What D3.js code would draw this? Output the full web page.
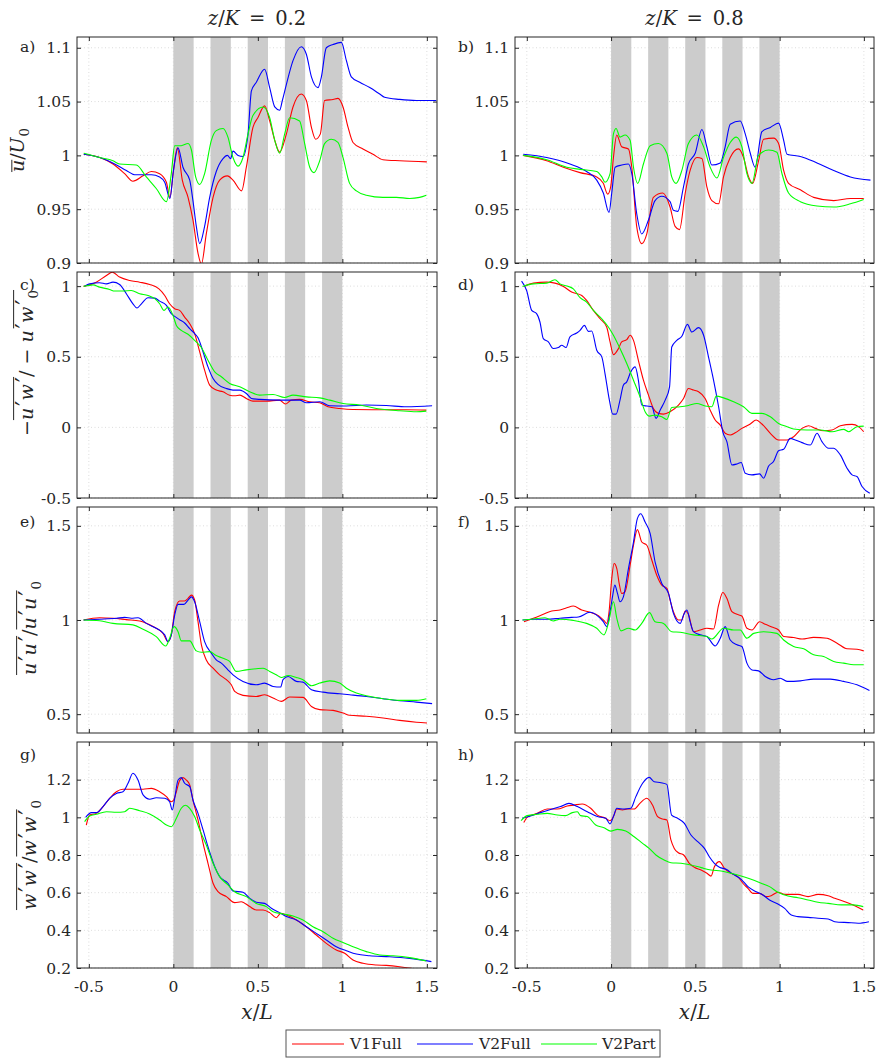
<!DOCTYPE html>
<html><head><meta charset="utf-8">
<script src="https://cdn.jsdelivr.net/npm/d3@7"></script>
<style>
body{margin:0;background:#fff}
svg{display:block}
text{font-family:"DejaVu Serif",serif;fill:#262626}
</style>
</head><body>
<svg id="chart" width="879" height="1058"></svg>
<script>
// ---------- categories / ticks ----------
const seriesNames = ["V1Full", "V2Full", "V2Part"];
const seriesColors = ["#ff0000", "#0000ff", "#00ff00"];
const columnTitles = ["0.2", "0.8"];
const xTicks = [-0.5, 0, 0.5, 1, 1.5];
const xTickLabels = ["-0.5", "0", "0.5", "1", "1.5"];
const rowBands = [[0, 0.12], [0.22, 0.34], [0.44, 0.56], [0.66, 0.78], [0.88, 1.0]];
const yTicksU = [0.9, 0.95, 1, 1.05, 1.1];
const yTickLabelsU = ["0.9", "0.95", "1", "1.05", "1.1"];
const yTicksUW = [-0.5, 0, 0.5, 1];
const yTickLabelsUW = ["-0.5", "0", "0.5", "1"];
const yTicksUU = [0.5, 1, 1.5];
const yTickLabelsUU = ["0.5", "1", "1.5"];
const yTicksWW = [0.2, 0.4, 0.6, 0.8, 1, 1.2];
const yTickLabelsWW = ["0.2", "0.4", "0.6", "0.8", "1", "1.2"];

// ---------- series values [x/L, value] ----------
const a_V1Full = [[-0.53,1.001],[-0.436,0.998],[-0.357,0.992],[-0.288,0.983],[-0.239,0.976],[-0.179,0.981],[-0.13,0.985],[-0.081,0.983],[-0.041,0.975],[-0.02,0.961],[0.0,0.985],[0.024,1.007],[0.053,0.977],[0.087,0.961],[0.116,0.94],[0.146,0.909],[0.166,0.899],[0.195,0.927],[0.235,0.961],[0.274,0.977],[0.32,0.981],[0.353,0.977],[0.404,0.967],[0.432,0.989],[0.471,1.026],[0.5,1.035],[0.54,1.046],[0.57,1.032],[0.6,1.014],[0.629,1.003],[0.669,1.02],[0.708,1.045],[0.757,1.057],[0.787,1.051],[0.817,1.026],[0.842,1.015],[0.87,1.02],[0.895,1.051],[0.945,1.052],[0.974,1.053],[1.004,1.045],[1.034,1.026],[1.063,1.012],[1.122,1.006],[1.181,1.001],[1.24,0.996],[1.34,0.995],[1.5,0.994]];
const a_V2Full = [[-0.53,1.001],[-0.436,0.998],[-0.347,0.992],[-0.278,0.986],[-0.229,0.982],[-0.179,0.982],[-0.13,0.982],[-0.081,0.98],[-0.051,0.975],[-0.02,0.96],[0.0,0.985],[0.028,1.007],[0.057,0.989],[0.097,0.977],[0.116,0.958],[0.136,0.934],[0.156,0.918],[0.185,0.934],[0.215,0.961],[0.254,0.985],[0.294,0.997],[0.32,1.0],[0.339,0.997],[0.353,1.004],[0.383,1.0],[0.412,0.999],[0.442,1.02],[0.462,1.06],[0.491,1.068],[0.54,1.08],[0.57,1.063],[0.6,1.045],[0.629,1.042],[0.645,1.051],[0.669,1.066],[0.708,1.088],[0.757,1.101],[0.787,1.094],[0.817,1.073],[0.856,1.063],[0.876,1.073],[0.905,1.1],[0.945,1.103],[0.994,1.105],[1.024,1.088],[1.053,1.073],[1.103,1.068],[1.162,1.063],[1.221,1.057],[1.25,1.054],[1.339,1.052],[1.438,1.051],[1.556,1.051]];
const a_V2Part = [[-0.53,1.002],[-0.436,0.998],[-0.357,0.995],[-0.318,0.992],[-0.219,0.991],[-0.16,0.98],[-0.1,0.969],[-0.041,0.957],[-0.012,0.983],[0.008,1.009],[0.047,1.009],[0.087,1.011],[0.107,1.005],[0.132,0.98],[0.156,0.973],[0.185,0.983],[0.225,1.014],[0.254,1.023],[0.294,1.025],[0.323,1.017],[0.353,0.998],[0.383,0.99],[0.412,0.998],[0.442,1.02],[0.471,1.037],[0.531,1.045],[0.57,1.035],[0.6,1.014],[0.629,1.002],[0.659,1.02],[0.688,1.035],[0.747,1.032],[0.777,1.011],[0.807,0.989],[0.832,0.984],[0.866,0.995],[0.895,1.011],[0.935,1.015],[0.974,1.012],[1.004,0.998],[1.043,0.974],[1.083,0.967],[1.142,0.963],[1.24,0.961],[1.32,0.961],[1.398,0.96],[1.457,0.961],[1.497,0.963]];

const b_V1Full = [[-0.521,1.0],[-0.382,0.995],[-0.283,0.989],[-0.184,0.984],[-0.085,0.98],[-0.046,0.974],[-0.02,0.964],[-0.002,0.971],[0.014,0.998],[0.034,1.019],[0.063,1.008],[0.103,1.006],[0.123,0.989],[0.152,0.934],[0.182,0.918],[0.212,0.927],[0.251,0.961],[0.307,0.965],[0.35,0.952],[0.38,0.934],[0.406,0.931],[0.44,0.965],[0.469,0.986],[0.509,0.998],[0.539,0.997],[0.568,0.971],[0.598,0.958],[0.638,0.955],[0.667,0.98],[0.707,0.998],[0.756,1.006],[0.786,0.998],[0.816,0.98],[0.84,0.974],[0.875,0.995],[0.905,1.015],[0.964,1.016],[0.994,1.011],[1.024,0.986],[1.053,0.974],[1.123,0.968],[1.202,0.961],[1.321,0.958],[1.42,0.96],[1.499,0.96]];
const b_V2Full = [[-0.521,1.001],[-0.382,0.998],[-0.244,0.992],[-0.145,0.985],[-0.085,0.977],[-0.046,0.965],[-0.012,0.947],[0.004,0.965],[0.024,0.989],[0.063,0.991],[0.103,0.992],[0.123,0.983],[0.152,0.946],[0.182,0.927],[0.222,0.94],[0.261,0.958],[0.301,0.962],[0.35,0.957],[0.37,0.949],[0.396,0.948],[0.43,0.971],[0.459,0.992],[0.499,1.002],[0.539,1.024],[0.568,1.008],[0.598,0.991],[0.648,0.993],[0.677,1.008],[0.707,1.029],[0.766,1.032],[0.796,1.02],[0.826,1.002],[0.855,0.989],[0.895,1.022],[0.945,1.026],[0.994,1.03],[1.024,1.014],[1.044,1.001],[1.123,0.999],[1.222,0.993],[1.321,0.986],[1.42,0.98],[1.539,0.977]];
const b_V2Part = [[-0.521,1.0],[-0.382,0.996],[-0.263,0.989],[-0.184,0.987],[-0.085,0.985],[-0.055,0.98],[-0.036,0.975],[-0.006,0.983],[0.014,1.02],[0.03,1.025],[0.053,1.017],[0.083,1.019],[0.113,1.014],[0.133,0.989],[0.158,0.974],[0.192,0.992],[0.232,1.009],[0.281,1.011],[0.331,1.002],[0.36,0.98],[0.386,0.974],[0.42,0.986],[0.459,1.011],[0.509,1.019],[0.549,1.008],[0.588,0.989],[0.628,0.979],[0.667,0.998],[0.707,1.012],[0.743,1.017],[0.776,1.008],[0.806,0.983],[0.836,0.974],[0.875,1.0],[0.935,1.005],[0.984,1.003],[1.014,0.983],[1.053,0.965],[1.123,0.957],[1.222,0.953],[1.321,0.952],[1.42,0.955],[1.499,0.959]];

const c_V1Full = [[-0.531,0.998],[-0.456,1.028],[-0.396,1.075],[-0.361,1.099],[-0.318,1.064],[-0.258,1.04],[-0.199,1.028],[-0.14,1.012],[-0.085,0.981],[-0.051,0.934],[-0.022,0.875],[0.008,0.84],[0.037,0.828],[0.067,0.781],[0.097,0.734],[0.126,0.664],[0.156,0.534],[0.185,0.405],[0.215,0.299],[0.254,0.264],[0.294,0.252],[0.333,0.228],[0.363,0.224],[0.393,0.228],[0.432,0.205],[0.471,0.186],[0.55,0.186],[0.629,0.193],[0.663,0.165],[0.698,0.193],[0.748,0.198],[0.807,0.181],[0.866,0.174],[0.915,0.146],[0.984,0.134],[1.063,0.127],[1.241,0.125],[1.379,0.125],[1.497,0.122]];
const c_V2Full = [[-0.525,1.0],[-0.495,1.016],[-0.436,1.024],[-0.396,1.016],[-0.357,1.028],[-0.318,1.012],[-0.278,0.946],[-0.239,0.875],[-0.215,0.845],[-0.189,0.875],[-0.15,0.918],[-0.11,0.915],[-0.081,0.894],[-0.041,0.864],[-0.012,0.805],[0.008,0.786],[0.037,0.762],[0.067,0.739],[0.097,0.699],[0.126,0.664],[0.146,0.635],[0.176,0.534],[0.205,0.428],[0.235,0.346],[0.264,0.304],[0.314,0.275],[0.353,0.264],[0.393,0.264],[0.432,0.24],[0.462,0.205],[0.511,0.198],[0.629,0.193],[0.748,0.193],[0.787,0.174],[0.866,0.181],[0.925,0.153],[1.024,0.151],[1.142,0.158],[1.26,0.155],[1.379,0.146],[1.531,0.153]];
const c_V2Part = [[-0.531,0.998],[-0.475,1.009],[-0.436,0.993],[-0.377,0.976],[-0.347,0.965],[-0.298,0.965],[-0.249,0.969],[-0.199,0.946],[-0.15,0.934],[-0.11,0.911],[-0.081,0.875],[-0.055,0.828],[-0.032,0.852],[-0.002,0.793],[0.018,0.722],[0.047,0.687],[0.087,0.659],[0.126,0.616],[0.166,0.565],[0.205,0.475],[0.245,0.393],[0.284,0.358],[0.333,0.311],[0.393,0.287],[0.452,0.252],[0.511,0.228],[0.59,0.233],[0.659,0.212],[0.708,0.228],[0.787,0.216],[0.866,0.209],[0.925,0.193],[1.004,0.169],[1.103,0.158],[1.201,0.134],[1.339,0.118],[1.438,0.111],[1.497,0.115]];

const d_V1Full = [[-0.517,0.998],[-0.461,1.021],[-0.382,1.028],[-0.333,1.021],[-0.283,0.998],[-0.234,0.958],[-0.174,0.934],[-0.145,0.899],[-0.105,0.828],[-0.065,0.769],[-0.026,0.711],[-0.006,0.605],[0.014,0.515],[0.044,0.558],[0.063,0.605],[0.093,0.621],[0.113,0.652],[0.133,0.616],[0.162,0.475],[0.192,0.334],[0.222,0.228],[0.251,0.134],[0.281,0.099],[0.311,0.094],[0.35,0.111],[0.4,0.158],[0.43,0.205],[0.459,0.275],[0.489,0.264],[0.519,0.252],[0.558,0.205],[0.588,0.122],[0.618,0.052],[0.648,0.016],[0.677,-0.042],[0.707,-0.054],[0.737,-0.038],[0.776,-0.007],[0.826,0.024],[0.861,0.052],[0.895,0.024],[0.945,-0.042],[0.994,-0.089],[1.044,-0.089],[1.083,-0.066],[1.133,-0.007],[1.172,0.012],[1.212,-0.007],[1.261,-0.024],[1.311,-0.019],[1.36,0.012],[1.43,0.021],[1.469,0.005],[1.499,-0.031]];
const d_V2Full = [[-0.531,1.035],[-0.501,0.969],[-0.471,0.828],[-0.442,0.805],[-0.422,0.746],[-0.402,0.628],[-0.372,0.605],[-0.343,0.558],[-0.313,0.565],[-0.293,0.581],[-0.267,0.565],[-0.244,0.64],[-0.204,0.668],[-0.184,0.687],[-0.158,0.722],[-0.135,0.68],[-0.115,0.682],[-0.085,0.546],[-0.055,0.499],[-0.036,0.381],[-0.01,0.193],[0.01,0.094],[0.03,0.094],[0.053,0.193],[0.073,0.299],[0.093,0.322],[0.117,0.393],[0.143,0.428],[0.162,0.334],[0.182,0.158],[0.212,0.151],[0.242,0.146],[0.267,0.064],[0.291,0.122],[0.321,0.193],[0.347,0.287],[0.36,0.569],[0.39,0.616],[0.42,0.645],[0.453,0.729],[0.479,0.675],[0.519,0.706],[0.549,0.652],[0.578,0.499],[0.608,0.334],[0.638,0.146],[0.663,-0.031],[0.687,-0.101],[0.717,-0.266],[0.747,-0.259],[0.772,-0.249],[0.796,-0.325],[0.836,-0.336],[0.881,-0.329],[0.905,-0.36],[0.935,-0.273],[0.964,-0.242],[0.994,-0.165],[1.024,-0.155],[1.063,-0.078],[1.093,-0.089],[1.133,-0.108],[1.182,-0.125],[1.222,-0.042],[1.251,-0.101],[1.291,-0.148],[1.321,-0.148],[1.36,-0.195],[1.4,-0.289],[1.43,-0.336],[1.459,-0.348],[1.489,-0.419],[1.535,-0.466]];
const d_V2Part = [[-0.525,0.998],[-0.461,1.016],[-0.382,1.021],[-0.333,1.045],[-0.303,1.016],[-0.253,0.998],[-0.224,0.981],[-0.184,0.918],[-0.145,0.887],[-0.105,0.828],[-0.055,0.769],[-0.016,0.711],[0.014,0.652],[0.053,0.558],[0.093,0.452],[0.133,0.334],[0.172,0.216],[0.202,0.111],[0.228,0.08],[0.261,0.087],[0.301,0.075],[0.331,0.056],[0.36,0.141],[0.41,0.146],[0.459,0.155],[0.509,0.169],[0.558,0.151],[0.598,0.146],[0.624,0.221],[0.667,0.209],[0.727,0.181],[0.786,0.146],[0.836,0.099],[0.895,0.099],[0.945,0.075],[0.994,0.028],[1.044,0.005],[1.083,-0.012],[1.162,-0.019],[1.242,-0.019],[1.311,-0.031],[1.38,-0.014],[1.41,-0.031],[1.459,0.005],[1.499,0.009]];

const e_V1Full = [[-0.531,1.0],[-0.436,1.012],[-0.357,1.009],[-0.278,1.002],[-0.199,0.995],[-0.12,0.965],[-0.061,0.929],[-0.032,0.885],[-0.012,0.921],[0.008,1.044],[0.037,1.101],[0.067,1.101],[0.087,1.115],[0.107,1.132],[0.126,1.106],[0.146,0.991],[0.166,0.868],[0.195,0.788],[0.235,0.744],[0.274,0.709],[0.314,0.683],[0.343,0.656],[0.363,0.621],[0.412,0.6],[0.491,0.594],[0.54,0.603],[0.59,0.586],[0.639,0.568],[0.688,0.591],[0.767,0.589],[0.817,0.541],[0.866,0.524],[0.945,0.52],[1.004,0.506],[1.043,0.494],[1.142,0.489],[1.241,0.48],[1.339,0.467],[1.438,0.457],[1.501,0.453]];
const e_V2Full = [[-0.531,1.0],[-0.436,1.004],[-0.337,1.009],[-0.288,1.014],[-0.249,1.009],[-0.209,1.012],[-0.16,0.982],[-0.101,0.956],[-0.051,0.921],[-0.032,0.885],[-0.012,0.921],[0.008,1.026],[0.028,1.083],[0.063,1.083],[0.087,1.106],[0.107,1.123],[0.126,1.097],[0.156,0.991],[0.185,0.885],[0.225,0.824],[0.254,0.788],[0.284,0.771],[0.323,0.735],[0.353,0.709],[0.412,0.674],[0.491,0.656],[0.54,0.665],[0.59,0.647],[0.635,0.644],[0.649,0.683],[0.679,0.7],[0.728,0.674],[0.767,0.67],[0.817,0.63],[0.886,0.617],[0.984,0.608],[1.043,0.603],[1.142,0.594],[1.241,0.582],[1.339,0.571],[1.438,0.564],[1.531,0.556]];
const e_V2Part = [[-0.531,1.0],[-0.436,0.996],[-0.357,0.982],[-0.239,0.974],[-0.179,0.951],[-0.101,0.912],[-0.045,0.862],[-0.022,0.903],[0.004,0.965],[0.028,0.938],[0.047,0.889],[0.097,0.889],[0.136,0.836],[0.166,0.829],[0.215,0.832],[0.254,0.811],[0.294,0.797],[0.333,0.78],[0.373,0.727],[0.432,0.735],[0.491,0.741],[0.531,0.744],[0.57,0.727],[0.609,0.709],[0.639,0.695],[0.679,0.705],[0.728,0.695],[0.767,0.683],[0.817,0.651],[0.866,0.665],[0.925,0.677],[0.984,0.665],[1.024,0.638],[1.083,0.612],[1.142,0.598],[1.241,0.582],[1.339,0.573],[1.438,0.573],[1.497,0.582]];

const f_V1Full = [[-0.517,0.991],[-0.461,1.009],[-0.402,1.03],[-0.352,1.048],[-0.303,1.053],[-0.263,1.065],[-0.224,1.074],[-0.174,1.053],[-0.125,1.041],[-0.075,1.023],[-0.04,0.995],[-0.026,0.982],[-0.012,1.044],[0.004,1.22],[0.018,1.3],[0.034,1.273],[0.048,1.194],[0.063,1.141],[0.083,1.15],[0.113,1.291],[0.133,1.397],[0.156,1.48],[0.182,1.414],[0.212,1.397],[0.242,1.317],[0.271,1.238],[0.301,1.185],[0.331,1.168],[0.35,1.106],[0.37,1.044],[0.4,1.0],[0.42,1.0],[0.44,1.048],[0.459,1.03],[0.489,0.938],[0.529,0.947],[0.568,0.956],[0.608,0.952],[0.638,1.079],[0.663,1.146],[0.687,1.115],[0.717,1.044],[0.747,1.03],[0.776,1.021],[0.806,0.956],[0.836,0.947],[0.881,0.991],[0.915,0.977],[0.954,0.963],[0.994,0.947],[1.024,0.912],[1.083,0.907],[1.133,0.899],[1.202,0.908],[1.281,0.903],[1.341,0.877],[1.4,0.847],[1.459,0.845],[1.499,0.836]];
const f_V2Full = [[-0.525,1.0],[-0.461,1.004],[-0.382,1.004],[-0.303,1.009],[-0.234,1.014],[-0.194,1.016],[-0.125,1.041],[-0.075,1.018],[-0.046,0.991],[-0.026,0.965],[-0.006,1.044],[0.01,1.132],[0.022,1.185],[0.038,1.141],[0.053,1.097],[0.073,1.123],[0.103,1.273],[0.133,1.414],[0.156,1.538],[0.176,1.564],[0.202,1.52],[0.232,1.459],[0.261,1.309],[0.301,1.194],[0.341,1.141],[0.37,1.035],[0.41,0.982],[0.43,1.026],[0.45,1.053],[0.469,0.991],[0.489,0.938],[0.529,0.921],[0.568,0.912],[0.618,0.862],[0.648,0.903],[0.677,0.965],[0.707,0.894],[0.747,0.868],[0.776,0.859],[0.806,0.771],[0.836,0.735],[0.875,0.73],[0.915,0.7],[0.964,0.683],[1.004,0.691],[1.044,0.674],[1.123,0.677],[1.202,0.686],[1.301,0.686],[1.38,0.674],[1.459,0.656],[1.533,0.626]];
const f_V2Part = [[-0.525,1.0],[-0.461,1.005],[-0.392,1.012],[-0.343,0.995],[-0.303,1.004],[-0.224,0.998],[-0.145,0.982],[-0.085,0.956],[-0.042,0.921],[-0.016,0.982],[0.014,1.097],[0.034,1.009],[0.059,0.942],[0.103,0.956],[0.143,0.947],[0.182,0.982],[0.228,1.039],[0.261,0.991],[0.311,0.982],[0.36,0.938],[0.41,0.935],[0.489,0.921],[0.568,0.912],[0.598,0.899],[0.667,0.956],[0.727,0.947],[0.766,0.947],[0.806,0.903],[0.846,0.929],[0.905,0.938],[0.984,0.929],[1.024,0.894],[1.083,0.859],[1.143,0.847],[1.202,0.815],[1.261,0.806],[1.321,0.78],[1.38,0.771],[1.44,0.762],[1.499,0.762]];

const g_V1Full = [[-0.515,0.959],[-0.495,1.012],[-0.456,1.021],[-0.416,1.057],[-0.377,1.101],[-0.337,1.136],[-0.298,1.149],[-0.239,1.149],[-0.179,1.149],[-0.13,1.154],[-0.081,1.136],[-0.041,1.11],[-0.012,1.083],[0.002,1.092],[0.018,1.136],[0.037,1.195],[0.057,1.211],[0.077,1.198],[0.097,1.172],[0.116,1.092],[0.146,0.986],[0.176,0.862],[0.205,0.756],[0.235,0.65],[0.264,0.605],[0.314,0.579],[0.363,0.547],[0.402,0.552],[0.452,0.526],[0.491,0.508],[0.531,0.508],[0.57,0.494],[0.609,0.467],[0.635,0.49],[0.669,0.481],[0.728,0.455],[0.787,0.419],[0.846,0.375],[0.905,0.331],[0.964,0.296],[1.014,0.278],[1.063,0.242],[1.122,0.225],[1.201,0.216],[1.26,0.214],[1.339,0.207],[1.408,0.198],[1.45,0.19]];
const g_V2Full = [[-0.519,1.0],[-0.485,1.025],[-0.456,1.025],[-0.416,1.057],[-0.377,1.101],[-0.337,1.127],[-0.298,1.136],[-0.268,1.181],[-0.239,1.234],[-0.209,1.198],[-0.179,1.119],[-0.14,1.096],[-0.101,1.104],[-0.051,1.101],[-0.022,1.083],[-0.006,1.039],[0.008,1.101],[0.028,1.198],[0.047,1.211],[0.067,1.181],[0.097,1.163],[0.116,1.092],[0.146,1.021],[0.176,0.933],[0.205,0.844],[0.245,0.738],[0.274,0.685],[0.323,0.65],[0.353,0.609],[0.412,0.602],[0.452,0.57],[0.491,0.549],[0.54,0.543],[0.58,0.517],[0.629,0.494],[0.669,0.473],[0.728,0.455],[0.787,0.419],[0.846,0.384],[0.905,0.349],[0.964,0.313],[1.024,0.292],[1.083,0.274],[1.162,0.265],[1.28,0.26],[1.398,0.251],[1.527,0.234]];
const g_V2Part = [[-0.525,0.977],[-0.495,1.007],[-0.456,1.016],[-0.396,1.03],[-0.337,1.027],[-0.288,1.03],[-0.258,1.048],[-0.199,1.035],[-0.14,1.018],[-0.081,0.986],[-0.041,0.959],[-0.012,0.95],[0.018,0.995],[0.047,1.048],[0.071,1.064],[0.097,1.048],[0.126,1.004],[0.156,0.933],[0.195,0.853],[0.235,0.756],[0.274,0.685],[0.323,0.641],[0.363,0.605],[0.432,0.579],[0.491,0.543],[0.55,0.526],[0.59,0.499],[0.649,0.487],[0.708,0.476],[0.767,0.455],[0.826,0.419],[0.886,0.393],[0.945,0.358],[1.004,0.335],[1.063,0.313],[1.142,0.287],[1.221,0.269],[1.3,0.265],[1.398,0.255],[1.497,0.237]];

const h_V1Full = [[-0.518,0.972],[-0.498,1.0],[-0.438,1.021],[-0.379,1.044],[-0.319,1.044],[-0.26,1.06],[-0.22,1.065],[-0.171,1.071],[-0.121,1.048],[-0.081,1.012],[-0.032,0.995],[-0.006,0.982],[0.014,1.004],[0.034,1.044],[0.067,1.039],[0.097,1.044],[0.137,1.044],[0.171,1.074],[0.212,1.101],[0.246,1.065],[0.276,1.004],[0.306,0.991],[0.331,0.986],[0.355,0.88],[0.375,0.835],[0.399,0.812],[0.431,0.8],[0.464,0.756],[0.494,0.735],[0.534,0.72],[0.569,0.703],[0.593,0.688],[0.613,0.738],[0.643,0.765],[0.673,0.729],[0.712,0.703],[0.752,0.685],[0.782,0.65],[0.812,0.623],[0.841,0.596],[0.881,0.596],[0.921,0.579],[0.95,0.584],[0.99,0.602],[1.03,0.591],[1.109,0.591],[1.169,0.579],[1.228,0.591],[1.288,0.584],[1.327,0.57],[1.387,0.552],[1.446,0.531],[1.496,0.508]];
const h_V2Full = [[-0.528,0.995],[-0.478,1.007],[-0.419,1.025],[-0.359,1.042],[-0.3,1.057],[-0.25,1.074],[-0.2,1.057],[-0.141,1.03],[-0.081,1.004],[-0.032,0.995],[-0.006,0.965],[0.014,1.004],[0.034,1.048],[0.077,1.044],[0.117,1.048],[0.147,1.11],[0.187,1.181],[0.226,1.212],[0.256,1.189],[0.296,1.184],[0.331,1.175],[0.359,1.012],[0.395,0.995],[0.435,0.968],[0.474,0.906],[0.514,0.871],[0.554,0.835],[0.583,0.791],[0.613,0.756],[0.643,0.735],[0.683,0.724],[0.722,0.699],[0.772,0.671],[0.812,0.632],[0.861,0.605],[0.901,0.588],[0.94,0.561],[0.99,0.54],[1.03,0.517],[1.069,0.481],[1.109,0.473],[1.169,0.469],[1.228,0.464],[1.288,0.46],[1.327,0.446],[1.407,0.441],[1.466,0.438],[1.53,0.446]];
const h_V2Part = [[-0.534,0.982],[-0.498,1.009],[-0.438,1.016],[-0.379,1.021],[-0.319,1.012],[-0.27,1.009],[-0.23,1.025],[-0.2,1.03],[-0.181,1.009],[-0.141,1.004],[-0.091,0.959],[-0.042,0.945],[-0.002,0.927],[0.038,0.936],[0.087,0.927],[0.137,0.897],[0.187,0.862],[0.226,0.835],[0.266,0.8],[0.315,0.773],[0.355,0.759],[0.415,0.756],[0.474,0.747],[0.534,0.733],[0.593,0.72],[0.653,0.715],[0.712,0.703],[0.772,0.688],[0.831,0.671],[0.891,0.65],[0.94,0.632],[0.99,0.602],[1.05,0.582],[1.109,0.573],[1.169,0.561],[1.228,0.549],[1.288,0.543],[1.367,0.535],[1.437,0.535],[1.496,0.526]];

// ---------- layout ----------
const svg = d3.select("#chart");
const colX = [[77, 437], [515, 874]];
const rowTop = [37, 272, 507, 742];
const rowH = 226;
const axisColor = "#262626";
const tickFont = 15.5;

// helpers for math-like labels: i = italic, p = prime, sub = subscript
const I = t => ({t, i:1}), R = t => ({t}), P = () => ({t:"\u2032", p:1}), S = t => ({t, sub:1});
const rows = [
  {domain:[0.9,1.11], ticks:yTicksU, labels:yTickLabelsU, data:[[a_V1Full,a_V2Full,a_V2Part],[b_V1Full,b_V2Full,b_V2Part]], letters:["a)","b)"], letterY:52,
   ylab:{cy:150, bx:24, parts:[I("u"),R("/"),I("U"),S("0")], over:[[0,0,0.64]]}},
  {domain:[-0.5,1.1], ticks:yTicksUW, labels:yTickLabelsUW, data:[[c_V1Full,c_V2Full,c_V2Part],[d_V1Full,d_V2Full,d_V2Part]], letters:["c)","d)"], letterY:290,
   ylab:{cy:363, bx:33, parts:[R("\u2212"),I("u"),P(),I("w"),P(),R("/ \u2212 "),I("u"),P(),I("w"),P(),S("0")], over:[[1,4,1.02],[10,13,1.02]]}},
  {domain:[0.4,1.6], ticks:yTicksUU, labels:yTickLabelsUU, data:[[e_V1Full,e_V2Full,e_V2Part],[f_V1Full,f_V2Full,f_V2Part]], letters:["e)","f)"], letterY:527,
   ylab:{cy:628, bx:36, parts:[I("u"),P(),I("u"),P(),R("/"),I("u"),P(),I("u"),P(),S("0")], over:[[0,3,1.02],[5,8,1.02]]}},
  {domain:[0.2,1.4], ticks:yTicksWW, labels:yTickLabelsWW, data:[[g_V1Full,g_V2Full,g_V2Part],[h_V1Full,h_V2Full,h_V2Part]], letters:["g)","h)"], letterY:760,
   ylab:{cy:855, bx:36, parts:[I("w"),P(),I("w"),P(),R("/"),I("w"),P(),I("w"),P(),S("0")], over:[[0,3,1.02],[5,8,1.02]]}}
];

function mathText(parent, parts, size, overs) {
  const t = parent.append("text").attr("text-anchor", "middle").attr("font-size", size);
  parts.forEach(p => {
    const ts = t.append("tspan").text(p.t);
    if (p.i) ts.attr("font-style", "italic");
    if (p.p) ts.attr("font-size", size * 1.25).attr("dx", size * 0.1);
    if (p.sub) ts.attr("font-size", size * 0.7).attr("dy", size * 0.25).attr("dx", size * 0.05);
  });
  const node = t.node();
  (overs || []).forEach(o => {
    const x1 = node.getStartPositionOfChar(o[0]).x;
    const x2 = node.getEndPositionOfChar(o[1]).x;
    const y = -o[2] * size;
    parent.append("line").attr("x1", x1).attr("x2", x2).attr("y1", y).attr("y2", y)
      .attr("stroke", axisColor).attr("stroke-width", 1);
  });
  return t;
}

const defs = svg.append("defs");

rows.forEach((row, ri) => {
  const y0 = rowTop[ri], y1 = y0 + rowH;
  const yScale = d3.scaleLinear().domain(row.domain).range([y1, y0]);
  [0, 1].forEach(ci => {
    const [x0, x1] = colX[ci];
    const xScale = d3.scaleLinear().domain([-0.57, 1.56]).range([x0, x1]);
    const g = svg.append("g");
    const clipId = "clip" + ri + "_" + ci;
    defs.append("clipPath").attr("id", clipId).append("rect")
      .attr("x", x0).attr("y", y0).attr("width", x1 - x0).attr("height", rowH);

    // grid
    g.append("g").selectAll("line").data(xTicks).join("line")
      .attr("x1", d => xScale(d)).attr("x2", d => xScale(d)).attr("y1", y0).attr("y2", y1)
      .attr("stroke", "#d4d4d4").attr("stroke-width", 0.8).attr("stroke-dasharray", "1,2.5");
    g.append("g").selectAll("line").data(row.ticks).join("line")
      .attr("x1", x0).attr("x2", x1).attr("y1", d => yScale(d)).attr("y2", d => yScale(d))
      .attr("stroke", "#d4d4d4").attr("stroke-width", 0.8).attr("stroke-dasharray", "1,2.5");

    // bands
    g.append("g").selectAll("rect").data(rowBands).join("rect")
      .attr("x", d => xScale(d[0])).attr("width", d => xScale(d[1]) - xScale(d[0]))
      .attr("y", y0).attr("height", rowH).attr("fill", "#cccccc");

    // lines
    const line = d3.line().x(d => xScale(d[0])).y(d => yScale(d[1])).curve(d3.curveMonotoneX);
    const lg = g.append("g").attr("clip-path", `url(#${clipId})`);
    row.data[ci].forEach((s, si) => {
      lg.append("path").datum(s).attr("d", line).attr("fill", "none")
        .attr("stroke", seriesColors[si]).attr("stroke-width", 1.1).attr("stroke-linejoin", "round");
    });

    // axes (inward ticks on all four sides)
    const tl = 4;
    const axL = d3.axisLeft(yScale).tickValues(row.ticks).tickSize(-tl).tickFormat("");
    const axR = d3.axisRight(yScale).tickValues(row.ticks).tickSize(-tl).tickFormat("");
    const axT = d3.axisTop(xScale).tickValues(xTicks).tickSize(-tl).tickFormat("");
    const axB = d3.axisBottom(xScale).tickValues(xTicks).tickSize(-tl).tickFormat("");
    [[axL, `translate(${x0},0)`], [axR, `translate(${x1},0)`], [axT, `translate(0,${y0})`], [axB, `translate(0,${y1})`]].forEach(([ax, tr]) => {
      const a = g.append("g").attr("transform", tr).call(ax);
      a.select(".domain").remove();
      a.selectAll("line").attr("stroke", axisColor);
    });
    g.append("rect").attr("x", x0).attr("y", y0).attr("width", x1 - x0).attr("height", rowH)
      .attr("fill", "none").attr("stroke", axisColor).attr("stroke-width", 1);

    // y tick labels
    g.append("g").selectAll("text").data(row.ticks).join("text")
      .attr("x", x0 - 6).attr("y", d => yScale(d)).attr("dy", "0.36em")
      .attr("text-anchor", "end").attr("font-size", tickFont)
      .text((d, i) => row.labels[i]);

    // x tick labels on bottom row
    if (ri === rows.length - 1) {
      g.append("g").selectAll("text").data(xTicks).join("text")
        .attr("x", d => xScale(d)).attr("y", y1 + 24)
        .attr("text-anchor", "middle").attr("font-size", tickFont)
        .text((d, i) => xTickLabels[i]);
      const xl = svg.append("g").attr("transform", `translate(${(x0 + x1) / 2},${y1 + 51})`);
      mathText(xl, [I("x"), R("/"), I("L")], 20, []);
    }

    // column titles
    if (ri === 0) {
      const tg = svg.append("g").attr("transform", `translate(${(x0 + x1) / 2},25)`);
      mathText(tg, [I("z"), R("/"), I("K"), R("\u2002=\u2002" + columnTitles[ci])], 19.5, []);
    }

    // panel letter
    svg.append("text").attr("x", x0 - 57).attr("y", row.letterY)
      .attr("font-size", tickFont).text(row.letters[ci]);

    // y label (left column only)
    if (ci === 0) {
      const yl = svg.append("g").attr("transform", `translate(${row.ylab.bx},${row.ylab.cy}) rotate(-90)`);
      mathText(yl, row.ylab.parts, 19, row.ylab.over);
    }
  });
});

// ---------- legend ----------
const leg = svg.append("g");
leg.append("rect").attr("x", 286).attr("y", 1030).attr("width", 374).attr("height", 27)
  .attr("fill", "#ffffff").attr("stroke", "#555555").attr("stroke-width", 1);
const legItems = [[292, 344, 350], [417, 473, 479], [541, 597, 602]];
seriesNames.forEach((n, i) => {
  const it = legItems[i];
  leg.append("path").attr("d", `M${it[0]},1044H${it[1]}`)
    .attr("fill", "none").attr("stroke", seriesColors[i]).attr("stroke-width", 1.2);
  leg.append("text").attr("x", it[2]).attr("y", 1043.5).attr("dy", "0.36em")
    .attr("font-size", tickFont).text(n);
});
</script>
</body></html>
